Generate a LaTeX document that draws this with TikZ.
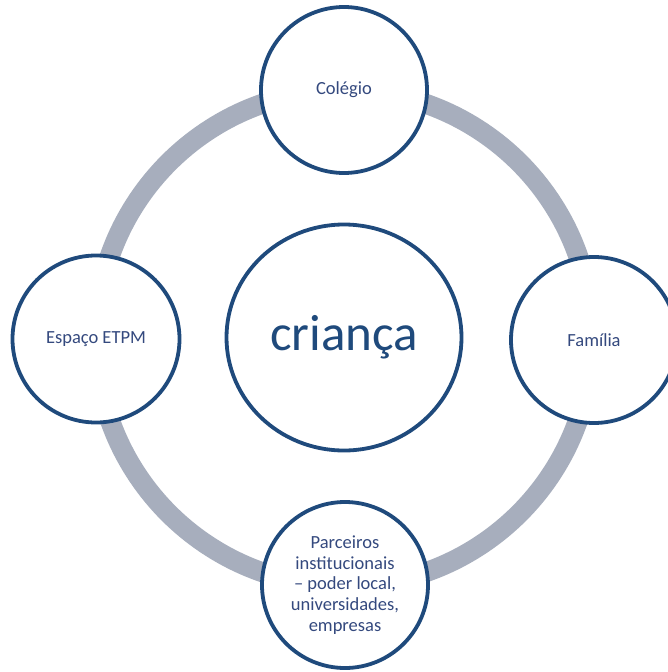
\documentclass[tikz,border=0pt]{standalone}
\usepackage{fontspec}
\usetikzlibrary{shapes.geometric}
\setmainfont{Carlito}
\definecolor{ringgray}{HTML}{A7AEBD}
\definecolor{navy}{HTML}{1F4A7C}
\definecolor{txt}{HTML}{34497E}
\begin{document}
\begin{tikzpicture}[x=1pt,y=-1pt,
  bubble/.style={circle,draw=navy,line width=3.8pt,fill=white,inner sep=0pt,
    text=txt,font=\fontsize{18.5}{20.7}\selectfont,align=center},
  ringline/.style={draw=ringgray,line width=20pt}]
\useasboundingbox (0,0) rectangle (668,672);
\clip (0,0) rectangle (668,672);
\coordinate (c) at (344,338);
\draw[ringline] (c) circle[radius=248];
\node[bubble,minimum size=166pt] (top) at (344,90) {Colégio};
\node[bubble,minimum size=167pt] (left) at (96,339) {Espaço ETPM};
\node[bubble,minimum size=166pt] (right) at (594,340) {Família};
\node[bubble,minimum size=166pt] (bottom) at (345,585) {Parceiros\\institucionais\\– poder local,\\universidades,\\empresas};
\node[bubble,ellipse,minimum width=235pt,minimum height=226pt,font=\fontsize{51}{60}\selectfont,text=navy] (center) at (344,337.5) {criança};
\end{tikzpicture}
\end{document}
